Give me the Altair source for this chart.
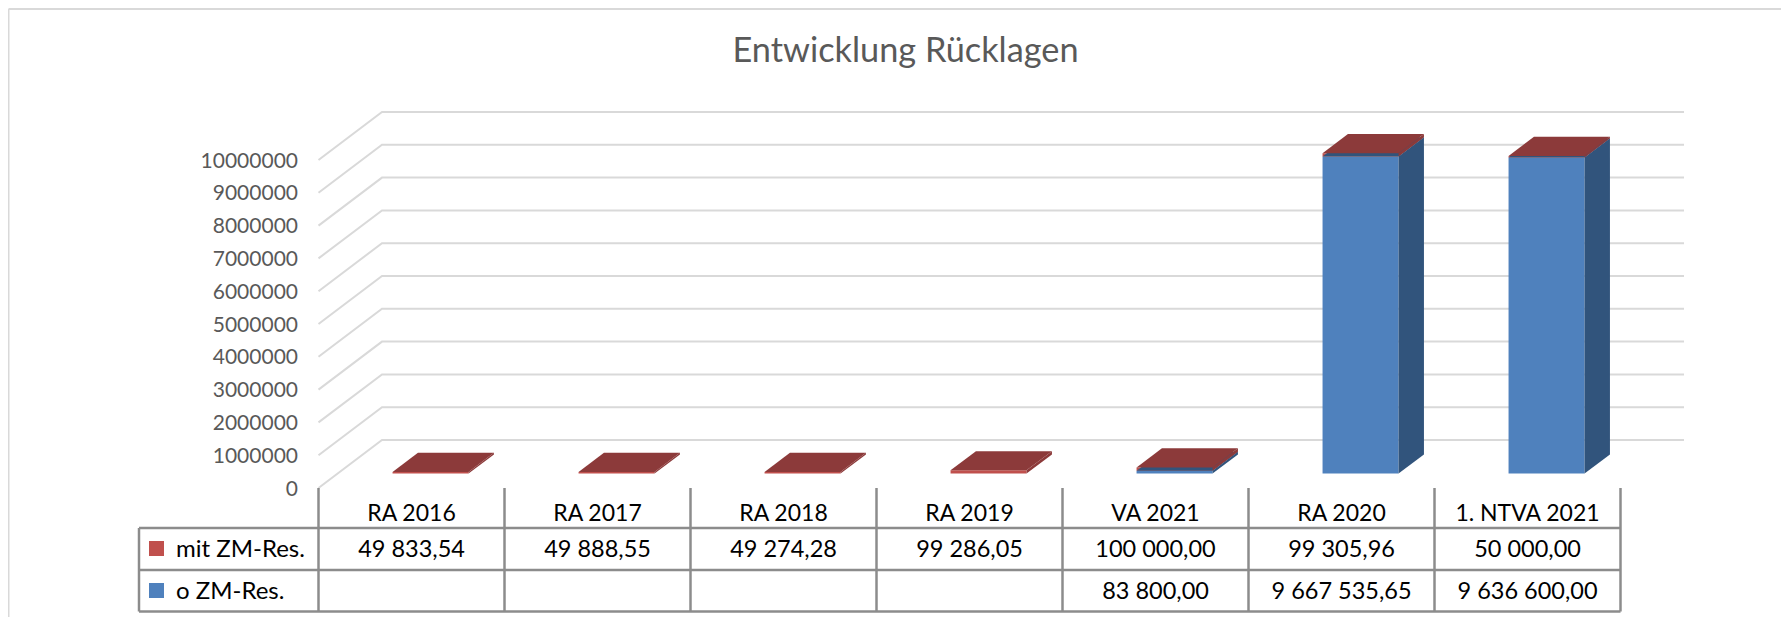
import altair as alt
import pandas as pd

title_text = "Entwicklung Rücklagen"
categories = ["RA 2016", "RA 2017", "RA 2018", "RA 2019", "VA 2021", "RA 2020", "1. NTVA 2021"]
mit_values = [49833.54, 49888.55, 49274.28, 99286.05, 100000.00, 99305.96, 50000.00]
o_values = [None, None, None, None, 83800.00, 9667535.65, 9636600.00]
mit_labels = ["49 833,54", "49 888,55", "49 274,28", "99 286,05", "100 000,00", "99 305,96", "50 000,00"]
o_labels = ["", "", "", "", "83 800,00", "9 667 535,65", "9 636 600,00"]
series_names = ["mit ZM-Res.", "o ZM-Res."]
y_ticks = list(range(0, 10000001, 1000000))

FONT = "Lato"
RED, RED_DARK = "#C0504D", "#8C3A3A"
BLUE, BLUE_DARK = "#4F81BD", "#31547C"
GRID, TABLE = "#D9D9D9", "#8C8C8C"

# Page geometry: plot origin sits at page (318.5, 160)
COL = 186.0
PX_PER_UNIT = 32.8 / 1e6
DX = 63.5 / COL              # oblique depth, x in category units
DY = 48 / PX_PER_UNIT        # oblique depth, y in value units
D0, D1 = 0.3, 0.7            # bar front / back depth
BAR_W = 76 / COL
N = len(categories)
X_LEFT = (139 - 318.5) / COL


def page_y(y):
    return y - 160


x_scale = alt.Scale(domain=[0, N], range=[0, COL * N], nice=False, zero=False)
y_scale = alt.Scale(domain=[0, 10000000], range=[328, 0], nice=False, zero=False)
y_axis = alt.Axis(
    values=y_ticks, title=None, domain=False, ticks=False, grid=False, format="d",
    labelFont=FONT, labelFontSize=21, labelColor="#595959", labelPadding=21, labelOffset=1,
)
X = lambda f: alt.X(f, type="quantitative", scale=x_scale, axis=None)
Y = lambda f: alt.Y(f, type="quantitative", scale=y_scale, axis=y_axis, stack=None)

# Gridlines: side wall, then back wall
grid_rows = []
for t in y_ticks:
    grid_rows += [
        {"t": t, "i": 0, "x": 0, "y": t},
        {"t": t, "i": 1, "x": DX, "y": t + DY},
        {"t": t, "i": 2, "x": N + DX, "y": t + DY},
    ]
grid = alt.Chart(pd.DataFrame(grid_rows)).mark_line(color=GRID, strokeWidth=2).encode(
    x=X("x"), y=Y("y"), detail="t:N", order="i:Q"
)

# Bar faces, all derived from the series values
fronts, polys = [], []


def add_box(idx, lo, hi, front, dark, key):
    x0 = idx + 0.5 - BAR_W / 2 + D0 * DX
    x1 = x0 + BAR_W
    b0, b1 = lo + D0 * DY, hi + D0 * DY
    ddx, ddy = (D1 - D0) * DX, (D1 - D0) * DY
    fronts.append({"x": x0, "x2": x1, "y": b0, "y2": b1, "fill": front, "k": key})
    # right side
    polys.append({"f": key + "s", "fill": dark, "x": x1, "y": b0, "y2": b1})
    polys.append({"f": key + "s", "fill": dark, "x": x1 + ddx, "y": b0 + ddy, "y2": b1 + ddy})
    # top
    t = key + "t"
    polys.append({"f": t, "fill": dark, "x": x0, "y": b1, "y2": b1})
    polys.append({"f": t, "fill": dark, "x": x0 + ddx, "y": b1, "y2": b1 + ddy})
    polys.append({"f": t, "fill": dark, "x": x1, "y": b1, "y2": b1 + ddy})
    polys.append({"f": t, "fill": dark, "x": x1 + ddx, "y": b1 + ddy, "y2": b1 + ddy})


for i, (m, o) in enumerate(zip(mit_values, o_values)):
    base = o or 0
    if o:
        add_box(i, 0, o, BLUE, BLUE_DARK, f"o{i}")
    add_box(i, base, base + m, RED, RED_DARK, f"m{i}")

front_layer = alt.Chart(pd.DataFrame(fronts)).mark_rect(strokeWidth=0).encode(
    x=X("x"), x2="x2:Q", y=Y("y"), y2="y2:Q", color=alt.Color("fill:N", scale=None, legend=None)
)
poly_layer = alt.Chart(pd.DataFrame(polys)).mark_area(strokeWidth=0).encode(
    x=X("x"), y=Y("y"), y2="y2:Q", detail="f:N", color=alt.Color("fill:N", scale=None, legend=None)
)

# Data table
row_lines = [528, 570, 611.5]
one = pd.DataFrame({"x": [X_LEFT], "x2": [N]})
h_rules = [
    alt.Chart(one).mark_rule(color=TABLE, strokeWidth=2.5).encode(x=X("x"), x2="x2:Q", y=alt.value(page_y(v)))
    for v in row_lines
]
v_rules = alt.Chart(pd.DataFrame({"x": list(range(N + 1))})).mark_rule(color=TABLE, strokeWidth=2.5).encode(
    x=X("x"), y=alt.value(page_y(488)), y2=alt.value(page_y(611.5)))
left_rule = alt.Chart(pd.DataFrame({"x": [X_LEFT]})).mark_rule(color=TABLE, strokeWidth=2.5).encode(
    x=X("x"), y=alt.value(page_y(528)), y2=alt.value(page_y(611.5)))


def cell_text(labels, yc, size):
    df = pd.DataFrame({"x": [i + 0.5 for i in range(N)], "t": labels})
    return alt.Chart(df).mark_text(font=FONT, fontSize=size, color="#000000", baseline="middle", align="center").encode(
        x=X("x"), y=alt.value(page_y(yc)), text="t:N")


cat_text = cell_text(categories, 514, 23)
mit_text = cell_text(mit_labels, 550, 23.5)
o_text = cell_text(o_labels, 592, 23.5)

sq_x = (156.5 - 318.5) / COL
swatches = [
    alt.Chart(pd.DataFrame({"x": [sq_x]})).mark_square(size=225, opacity=1, strokeWidth=0, color=c).encode(
        x=X("x"), y=alt.value(page_y(yc)))
    for c, yc in ((RED, 548.5), (BLUE, 590.5))
]
name_x = (176 - 318.5) / COL
names = [
    alt.Chart(pd.DataFrame({"x": [name_x], "t": [s]})).mark_text(
        font=FONT, fontSize=24, color="#000000", align="left", baseline="middle"
    ).encode(x=X("x"), y=alt.value(page_y(yc)), text="t:N")
    for s, yc in zip(series_names, (550, 592))
]

# Outer frame of the picture
frame_top = alt.Chart(pd.DataFrame({"a": [0]})).mark_rule(color=GRID, strokeWidth=2).encode(
    x=alt.value(-310), x2=alt.value(1463), y=alt.value(-151))
frame_left = alt.Chart(pd.DataFrame({"a": [0]})).mark_rule(color=GRID, strokeWidth=2).encode(
    x=alt.value(-310), y=alt.value(-151), y2=alt.value(457))

chart = alt.layer(
    frame_top, frame_left, grid, front_layer, poly_layer,
    v_rules, left_rule, *h_rules, cat_text, mit_text, o_text, *swatches, *names,
).properties(
    width=COL * N,
    height=328,
    padding={"left": 310.5, "top": 152, "right": 160.5, "bottom": 129},
    autosize=alt.AutoSizeParams(type="none"),
    view=alt.ViewConfig(stroke=None),
    background="white",
    title=alt.TitleParams(title_text, font=FONT, fontSize=34.3, fontWeight="normal", color="#595959",
                          anchor="middle", frame="group", dx=-64, dy=82.5, baseline="middle"),
)

chart.save("out.html", embed_options={"renderer": "svg", "actions": False})
